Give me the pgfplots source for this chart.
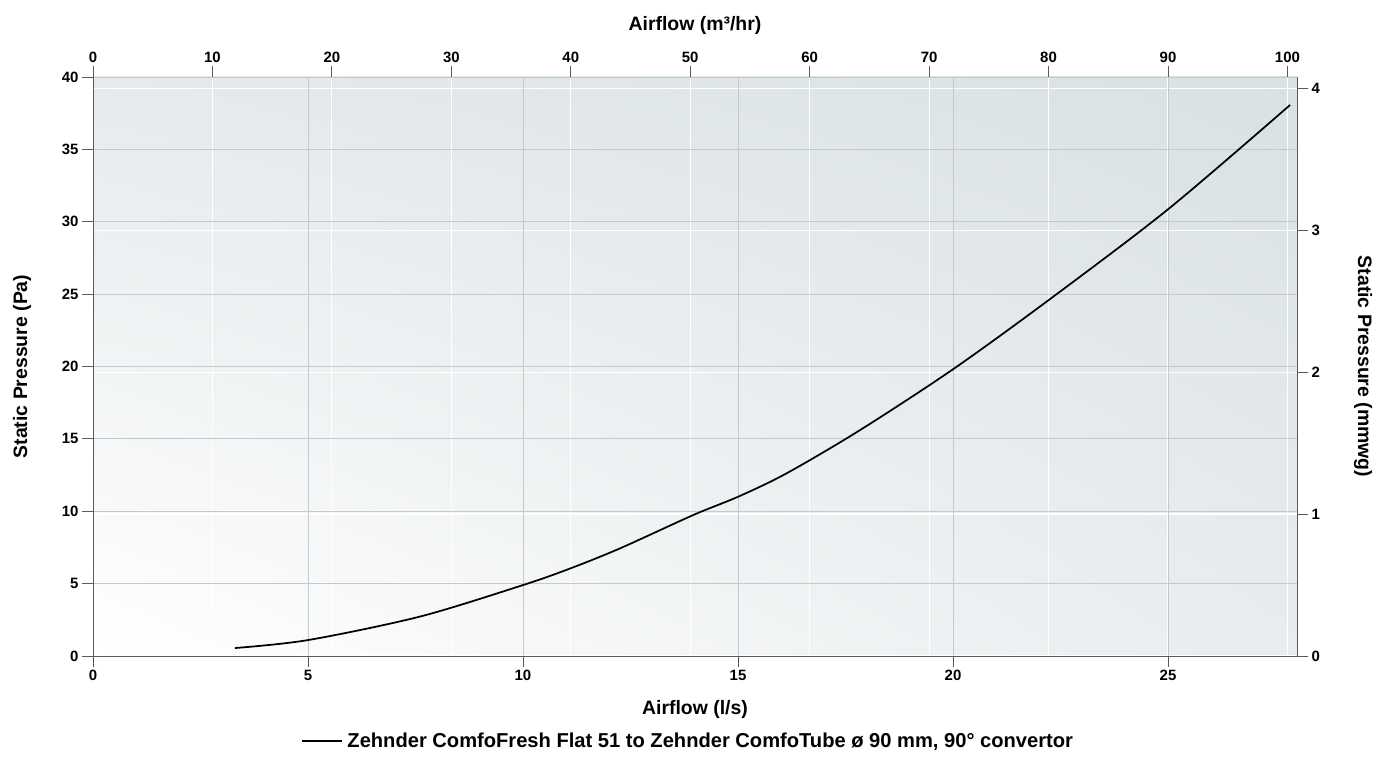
\documentclass[border=0pt]{standalone}
\usepackage{pgfplots}
\pgfplotsset{compat=1.18}
\usetikzlibrary{shadings}
\usepackage{fontspec}
\setmainfont{Liberation Sans}
\definecolor{gridgray}{HTML}{C6C9CB}
\definecolor{axgray}{HTML}{5A5A5A}
\definecolor{bgUL}{HTML}{E5EAEC}
\definecolor{bgUR}{HTML}{D9E1E4}
\definecolor{bgLL}{HTML}{FFFFFF}
\definecolor{bgLR}{HTML}{E8ECEE}
\begin{document}
\begin{tikzpicture}
\pgfplotsset{
  common/.style={
    scale only axis, width=1204bp, height=579bp,
    at={(0,0)}, anchor=south west,
    tick align=outside,
    major tick length=11bp,
    tick style={axgray, line width=0.8pt},
    axis line style={axgray, line width=0.9pt},
    ticklabel style={font=\fontsize{15}{17}\selectfont\bfseries},
    label style={font=\fontsize{19.5}{22}\selectfont\bfseries},
    /pgf/number format/assume math mode=true,
  }
}
% secondary axes (top / right), white grid, background
\begin{axis}[common,
  axis x line*=top, axis y line*=right,
  xmin=0, xmax=100.8, ymin=0, ymax=4.07886,
  xtick={0,10,...,100}, ytick={0,1,2,3,4},
  grid=major, major grid style={white, line width=1.1pt},
  xlabel={Airflow (m³/hr)}, ylabel={Static Pressure (mmwg)},
  xlabel style={at={([yshift=52bp]axis description cs:0.5,1)}, anchor=center},
  ylabel style={at={([xshift=66bp]axis description cs:1,0.5)}, anchor=center, rotate=180},
  axis background/.style={shade, upper left=bgUL, upper right=bgUR, lower left=bgLL, lower right=bgLR},
]
\end{axis}
% main axes
\begin{axis}[common, name=main,
  axis x line*=bottom, axis y line*=left,
  xmin=0, xmax=28, ymin=0, ymax=40,
  xtick={0,5,...,25}, ytick={0,5,...,40},
  grid=major, major grid style={gridgray, line width=0.8pt},
  xlabel={Airflow (l/s)}, ylabel={Static Pressure (Pa)},
  xlabel style={at={([yshift=-53bp]axis description cs:0.5,0)}, anchor=center},
  ylabel style={at={([xshift=-71bp]axis description cs:0,0.5)}, anchor=center},
  legend style={at={([xshift=-7bp,yshift=-85bp]axis description cs:0.5,0)}, anchor=center,
    draw=none, fill=none, font=\fontsize{20.2}{22}\selectfont\bfseries},
  legend image code/.code={\draw[#1, line width=1.5pt] (0bp,0bp) -- (40bp,0bp);},
  legend cell align=left,
]
\addplot[black, line width=1.75pt, smooth, tension=0.5] coordinates {
(3.3,0.55) (5.0,1.1) (7.6,2.72) (10.0,4.9) (11.1,6.05) (12.26,7.44)
(13.96,9.74) (15.0,11.0) (16.13,12.62) (17.84,15.61) (20.03,19.87)
(22.33,24.82) (25.03,30.93) (27.84,38.07)
};
\addlegendentry{\hspace{3bp}Zehnder ComfoFresh Flat 51 to Zehnder ComfoTube ø 90 mm, 90° convertor}
\end{axis}
\pgfresetboundingbox
\path ([xshift=-93bp,yshift=-102bp]main.south west) rectangle ++(1379bp,758bp);
\end{tikzpicture}
\end{document}
